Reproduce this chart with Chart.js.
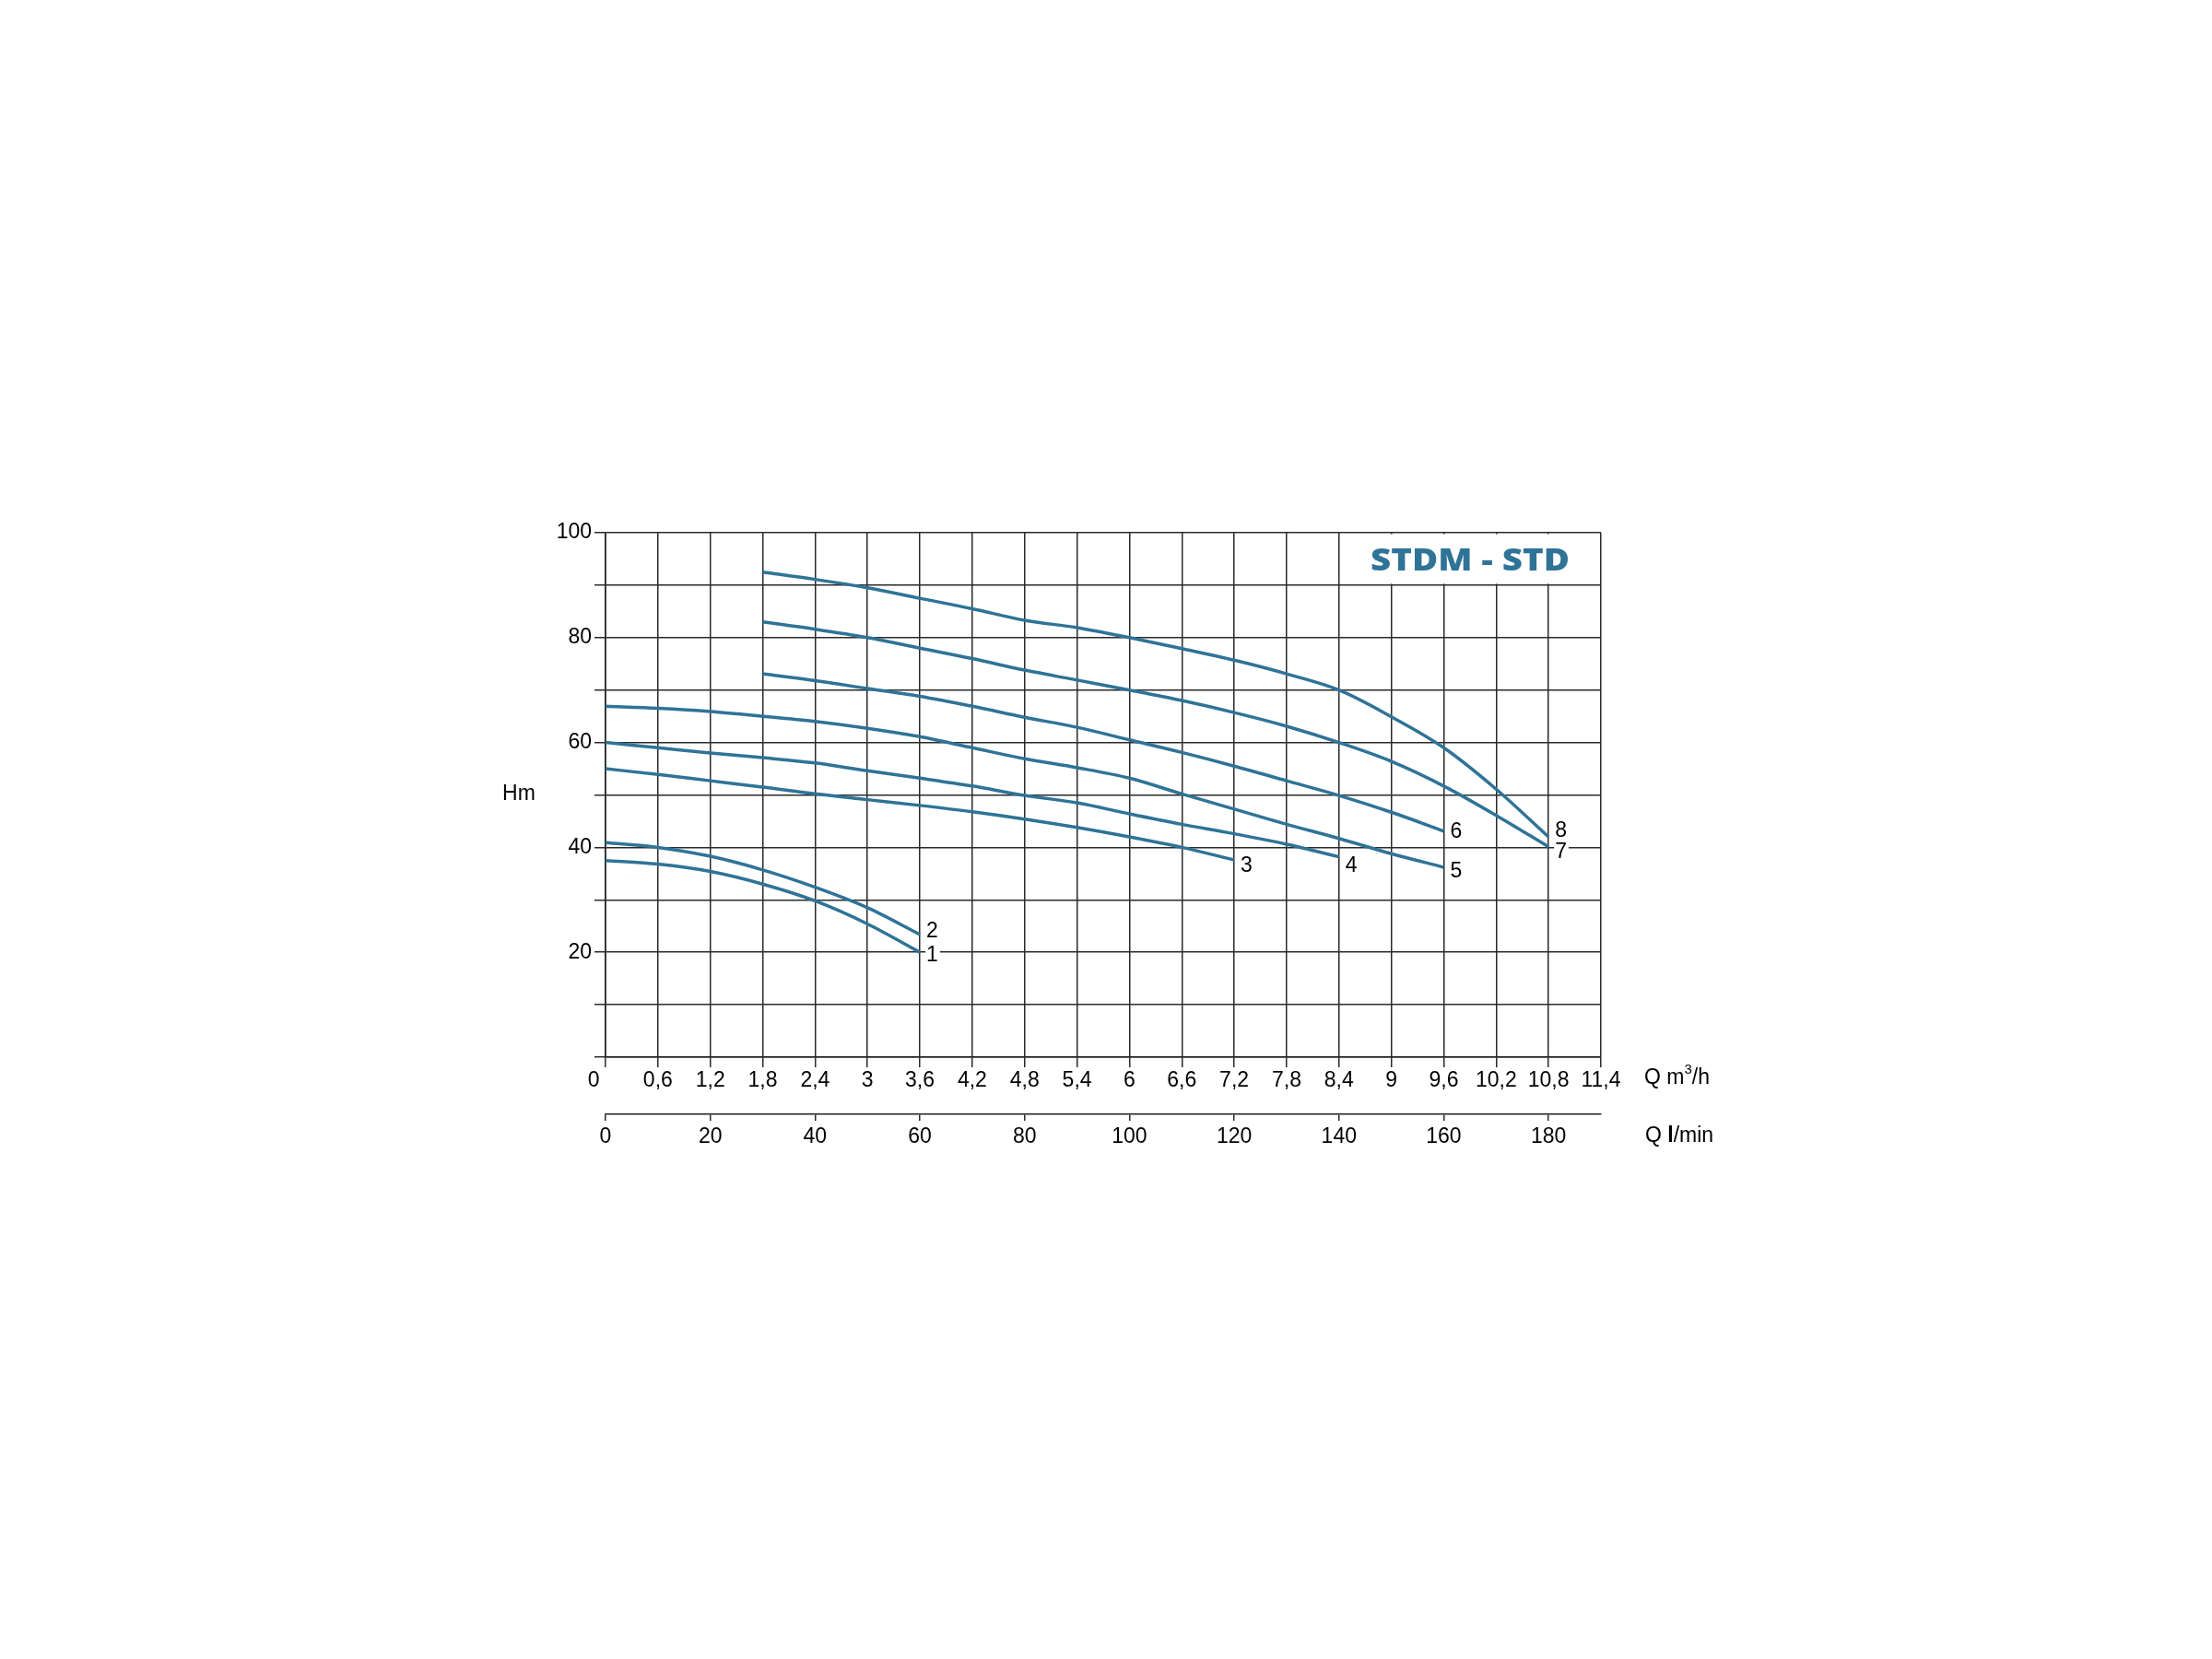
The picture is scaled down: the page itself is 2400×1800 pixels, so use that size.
<!DOCTYPE html>
<html>
<head>
<meta charset="utf-8">
<script src="https://cdn.jsdelivr.net/npm/chart.js@4.4.1/dist/chart.umd.min.js"></script>
<style>
  body { margin: 0; background: #fff; }
</style>
</head>
<body>
<canvas id="pumpChart" width="2400" height="1800"></canvas>
<script>
// flow points in l/min (every grid column = 10 l/min = 0,6 m3/h)
const flowShort = [0, 10, 20, 30, 40, 50, 60];
const flow3 = [0, 10, 20, 30, 40, 50, 60, 70, 80, 90, 100, 110, 120];
const flow4 = [0, 10, 20, 30, 40, 50, 60, 70, 80, 90, 100, 110, 120, 130, 140];
const flow5 = [0, 10, 20, 30, 40, 50, 60, 70, 80, 90, 100, 110, 120, 130, 140, 150, 160];
const flow6 = [30, 40, 50, 60, 70, 80, 90, 100, 110, 120, 130, 140, 150, 160];
const flowLong = [30, 40, 50, 60, 70, 80, 90, 100, 110, 120, 130, 140, 150, 160, 170, 180];

// head in m
const head1 = [37.5, 36.8, 35.4, 33.0, 29.8, 25.4, 20.0];
const head2 = [40.9, 40.0, 38.3, 35.7, 32.4, 28.5, 23.4];
const head3 = [55.0, 53.9, 52.7, 51.5, 50.2, 49.1, 48.0, 46.8, 45.4, 43.8, 42.0, 40.0, 37.6];
const head4 = [60.0, 59.0, 58.0, 57.1, 56.1, 54.6, 53.2, 51.7, 49.9, 48.5, 46.4, 44.4, 42.6, 40.6, 38.2];
const head5 = [66.9, 66.5, 65.9, 65.0, 64.0, 62.7, 61.1, 59.0, 56.9, 55.2, 53.2, 50.2, 47.3, 44.4, 41.7, 38.8, 36.2];
const head6 = [73.1, 71.8, 70.3, 68.8, 66.9, 64.8, 62.9, 60.5, 58.1, 55.5, 52.7, 49.9, 46.7, 43.1];
const head7 = [83.0, 81.6, 80.0, 78.0, 76.0, 73.8, 71.9, 70.0, 68.0, 65.7, 63.1, 60.0, 56.4, 51.7, 46.1, 40.1];
const head8 = [92.5, 91.1, 89.5, 87.5, 85.5, 83.3, 81.9, 80.0, 77.9, 75.7, 73.1, 70.0, 64.9, 59.0, 51.1, 42.0];

const curveNames = ['1', '2', '3', '4', '5', '6', '7', '8'];
const yTickLabels = [20, 40, 60, 80, 100];
const title = 'STDM - STD';

const BLUE = '#2f7397';
const GRID = '#2a2a2a';
const FONT = '"Liberation Sans", Arial, sans-serif';

const series = [
  [flowShort, head1], [flowShort, head2], [flow3, head3], [flow4, head4],
  [flow5, head5], [flow6, head6], [flowLong, head7], [flowLong, head8]
];

// label nudges (px) next to the end of each curve
const labelDy = [2, -4, 6, 9, 4, 0, 5, -7];

function m3h(v) {
  const s = (v * 0.06).toFixed(1).replace(/\.0$/, '').replace('.', ',');
  return v === 0 ? '0\u2007\u2007' : s;
}

const extras = {
  id: 'extras',
  beforeDatasetsDraw(chart) {
    const { ctx, scales: { x, y } } = chart;
    // blank band behind the title
    ctx.save();
    ctx.fillStyle = '#fff';
    const l = x.getPixelForValue(140) + 1.5, r = x.getPixelForValue(190) - 1.5;
    const t = y.getPixelForValue(100) + 1.5, b = y.getPixelForValue(90) - 1.5;
    ctx.fillRect(l, t, r - l, b - t);
    ctx.restore();
  },
  afterDatasetsDraw(chart) {
    const { ctx, scales: { x, y } } = chart;
    ctx.save();
    // title
    ctx.font = '800 34px "Open Sans", sans-serif';
    ctx.fillStyle = BLUE;
    ctx.textBaseline = 'middle';
    ctx.textAlign = 'left';
    const w = ctx.measureText(title).width;
    ctx.translate(1487, 609);
    ctx.scale(216 / w, 1);
    ctx.fillText(title, 0, 0);
    ctx.restore();

    // curve numbers
    ctx.save();
    ctx.font = '23px ' + FONT;
    ctx.textBaseline = 'middle';
    ctx.textAlign = 'left';
    series.forEach((s, i) => {
      const q = s[0][s[0].length - 1], h = s[1][s[1].length - 1];
      const px = x.getPixelForValue(q) + 6, py = y.getPixelForValue(h) + labelDy[i];
      const tw = ctx.measureText(curveNames[i]).width;
      ctx.fillStyle = '#fff';
      ctx.fillRect(px, py - 10, tw + 3, 20);
      ctx.fillStyle = '#000';
      ctx.fillText(curveNames[i], px + 1, py + 1);
    });
    ctx.restore();

    // axis titles
    ctx.save();
    ctx.fillStyle = '#000';
    ctx.textBaseline = 'middle';
    ctx.textAlign = 'center';
    ctx.font = '23px ' + FONT;
    ctx.fillText('Hm', 563, 862);
    ctx.textAlign = 'left';
    let cx = 1784;
    ctx.fillText('Q m', cx, 1170);
    cx += ctx.measureText('Q m').width;
    ctx.font = '15px ' + FONT;
    ctx.fillText('3', cx, 1161);
    cx += ctx.measureText('3').width;
    ctx.font = '23px ' + FONT;
    ctx.fillText('/h', cx, 1170);

    cx = 1785;
    ctx.fillText('Q ', cx, 1233);
    cx += ctx.measureText('Q ').width;
    ctx.font = 'bold 23px ' + FONT;
    ctx.fillText('l', cx, 1233);
    cx += ctx.measureText('l').width;
    ctx.font = '23px ' + FONT;
    ctx.fillText('/min', cx, 1233);
    ctx.restore();
  }
};

const ctx = document.getElementById('pumpChart');
new Chart(ctx, {
  type: 'line',
  data: {
    datasets: series.map((s, i) => ({
      label: curveNames[i],
      data: s[0].map((q, j) => ({ x: q, y: s[1][j] })),
      borderColor: BLUE,
      borderWidth: 3.5,
      pointRadius: 0,
      fill: false,
      cubicInterpolationMode: 'monotone',
      xAxisID: 'x',
      yAxisID: 'y'
    }))
  },
  options: {
    responsive: false,
    animation: false,
    layout: { padding: { left: 557, right: 663, top: 578, bottom: 541 } },
    plugins: { legend: { display: false }, tooltip: { enabled: false } },
    scales: {
      x: {
        type: 'linear', position: 'bottom', weight: 0,
        min: 0, max: 190,
        ticks: {
          stepSize: 10, autoSkip: false, maxRotation: 0, padding: 1,
          color: '#000', font: { family: FONT, size: 23 },
          callback: v => m3h(v)
        },
        grid: { color: GRID, lineWidth: 1.5, tickLength: 11, tickColor: GRID },
        border: { color: '#222', width: 1.6 },
        afterFit: s => { s.height = 62; }
      },
      x2: {
        type: 'linear', position: 'bottom', weight: 1,
        min: 0, max: 190,
        ticks: {
          stepSize: 20, includeBounds: false, autoSkip: false, maxRotation: 0, padding: 4,
          color: '#000', font: { family: FONT, size: 23 }
        },
        grid: { drawOnChartArea: false, tickLength: 7, color: GRID, lineWidth: 1.5 },
        border: { color: '#222', width: 1.6 },
        afterFit: s => { s.height = 50; }
      },
      y: {
        min: 0, max: 100,
        ticks: {
          stepSize: 10, padding: 3, color: '#000', font: { family: FONT, size: 23 },
          callback: v => (yTickLabels.includes(v) ? String(v) : '')
        },
        grid: { color: GRID, lineWidth: 1.5, tickLength: 12, tickColor: GRID },
        border: { color: '#222', width: 1.6 },
        afterFit: s => { s.width = 100; }
      }
    }
  },
  plugins: [extras]
});
</script>
</body>
</html>
